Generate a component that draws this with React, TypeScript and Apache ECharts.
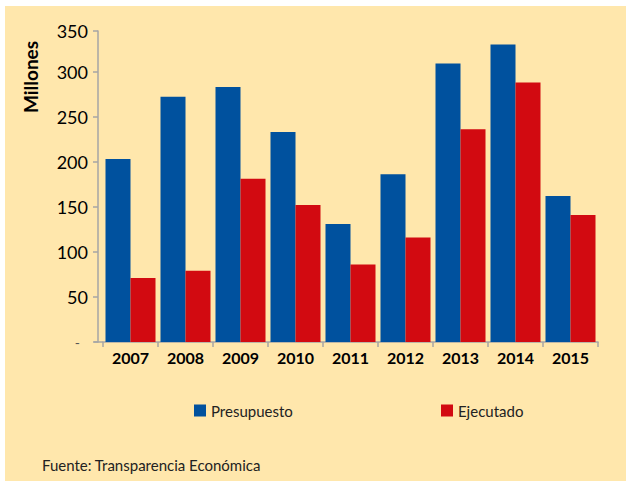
import React, { useEffect, useRef } from "react";
import * as echarts from "echarts";

const years = ["2007", "2008", "2009", "2010", "2011", "2012", "2013", "2014", "2015"];
const presupuesto = [203, 272, 283, 233, 131, 186, 309, 330, 162];
const ejecutado = [71, 79, 181, 152, 86, 116, 236, 288, 141];
const seriesNames = ["Presupuesto", "Ejecutado"];
const yAxisName = "Millones";
const sourceText = "Fuente: Transparencia Económica";
const yMax = 345;
const yTopLabel = "350";

const FONT = "Lato, 'Open Sans', sans-serif";
const BLUE = "#00519E";
const RED = "#D20A11";
const AXIS = "#A6A6A6";
const BG = "#FFE7AC";

export default function App() {
  const ref = useRef<HTMLDivElement>(null);

  useEffect(() => {
    if (!ref.current) return;
    const chart = echarts.init(ref.current, null, { renderer: "svg" });
    const legendText = { fontFamily: FONT, fontSize: 15, color: "#222" };
    chart.setOption({
      animation: false,
      backgroundColor: "#ffffff",
      textStyle: { fontFamily: FONT },
      graphic: [
        {
          type: "rect",
          z: -10,
          shape: { x: 5, y: 6, width: 621, height: 475 },
          style: { fill: BG },
          silent: true,
        },
        {
          type: "text",
          x: 30,
          y: 77,
          rotation: Math.PI / 2,
          style: {
            text: yAxisName,
            fontFamily: FONT,
            fontSize: 19,
            fontWeight: "bold",
            fill: "#000",
            align: "center",
            verticalAlign: "middle",
          },
        },
        {
          type: "text",
          x: 42,
          y: 465,
          style: {
            text: sourceText,
            fontFamily: FONT,
            fontSize: 15,
            fill: "#222",
            align: "left",
            verticalAlign: "middle",
          },
        },
        {
          type: "line",
          shape: { x1: 94, y1: 342, x2: 103, y2: 342 },
          style: { stroke: AXIS, lineWidth: 1.5 },
        },
      ],
      legend: [
        {
          data: [seriesNames[0]],
          left: 194,
          top: 403,
          padding: 0,
          itemWidth: 12,
          itemHeight: 12,
          itemGap: 5,
          icon: "rect",
          textStyle: legendText,
        },
        {
          data: [seriesNames[1]],
          left: 441,
          top: 403,
          padding: 0,
          itemWidth: 12,
          itemHeight: 12,
          itemGap: 5,
          icon: "rect",
          textStyle: legendText,
        },
      ],
      grid: { left: 103, right: 28, top: 31, bottom: 139, containLabel: false },
      xAxis: {
        type: "category",
        data: years,
        axisLine: { show: true, lineStyle: { color: AXIS, width: 1.5 } },
        axisTick: { show: true, length: 5, lineStyle: { color: AXIS, width: 1.5 } },
        axisLabel: {
          fontFamily: FONT,
          fontSize: 16,
          fontWeight: "bold",
          color: "#000",
          margin: 7,
        },
      },
      yAxis: {
        type: "value",
        min: 0,
        max: yMax,
        interval: 50,
        offset: 5,
        splitLine: { show: false },
        axisLine: { show: true, lineStyle: { color: AXIS, width: 1.5 } },
        axisTick: { show: true, length: 5, lineStyle: { color: AXIS, width: 1.5 } },
        axisLabel: {
          fontFamily: FONT,
          fontSize: 18,
          color: "#000",
          margin: 10,
          formatter: (v: number) => {
            if (v === 0) return "{z|-}";
            if (v >= yMax) return yTopLabel;
            return String(v);
          },
          rich: {
            z: { fontFamily: FONT, fontSize: 14, color: "#555", padding: [0, 8, 0, 0] },
          },
        },
      },
      series: [
        {
          name: seriesNames[0],
          type: "bar",
          data: presupuesto,
          barWidth: 25,
          barGap: "0%",
          itemStyle: { color: BLUE },
        },
        {
          name: seriesNames[1],
          type: "bar",
          data: ejecutado,
          barWidth: 25,
          barGap: "0%",
          itemStyle: { color: RED },
        },
      ],
    });
    return () => chart.dispose();
  }, []);

  return (
    <div
      ref={ref}
      style={{ position: "fixed", left: 0, top: 0, width: 626, height: 481 }}
    />
  );
}
